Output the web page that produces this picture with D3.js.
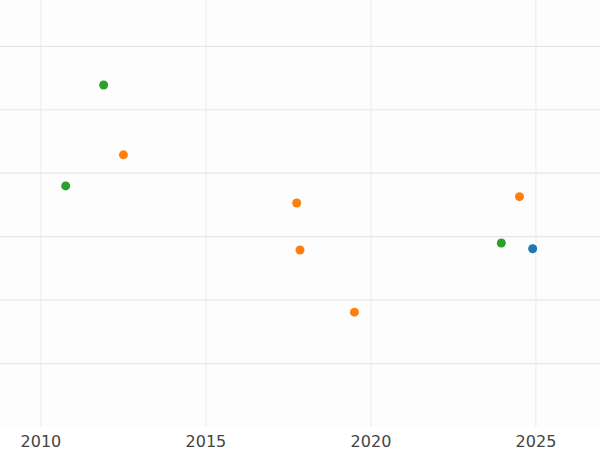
<!DOCTYPE html>
<html><head><meta charset="utf-8">
<script src="https://cdn.jsdelivr.net/npm/d3@7"></script>
<style>body{margin:0;background:#fff}</style></head>
<body><svg id="c" width="600" height="450"></svg>
<script>
// series data
var greenX=[2011.9,2010.75,2023.95], greenY=[5.39,3.80,2.90];
var orangeX=[2012.5,2017.75,2017.85,2019.5,2024.5], orangeY=[4.29,3.53,2.79,1.81,3.63];
var blueX=[2024.9], blueY=[2.81];
var xTicks=[2010,2015,2020,2025];
var yGrid=[1,2,3,4,5,6];

var svg=d3.select("#c");
var x=d3.scaleLinear().domain([2008.76,2026.94]).range([0,600]);
var y=d3.scaleLinear().domain([0,6.73]).range([427,0]);

svg.append("rect").attr("width",600).attr("height",427).attr("fill","#fdfdfd");
svg.selectAll(".vg").data(xTicks).enter().append("line")
  .attr("x1",d=>x(d)).attr("x2",d=>x(d)).attr("y1",0).attr("y2",427)
  .attr("stroke","#ebebeb");
svg.selectAll(".hg").data(yGrid).enter().append("line")
  .attr("x1",0).attr("x2",600).attr("y1",d=>y(d)).attr("y2",d=>y(d))
  .attr("stroke","#e6e6e6").attr("stroke-width",1.2);

svg.selectAll(".xl").data(xTicks).enter().append("text")
  .attr("x",d=>x(d)).attr("y",447).attr("text-anchor","middle")
  .attr("font-family","DejaVu Sans").attr("font-size",16).attr("fill","#444")
  .text(d=>d);

function dots(xs,ys,col){
  svg.selectAll(null).data(xs).enter().append("circle")
    .attr("cx",d=>x(d)).attr("cy",(d,i)=>y(ys[i])).attr("r",4.5).attr("fill",col);
}
dots(greenX,greenY,"#2ca02c");
dots(orangeX,orangeY,"#ff7f0e");
dots(blueX,blueY,"#1f77b4");
</script></body></html>
